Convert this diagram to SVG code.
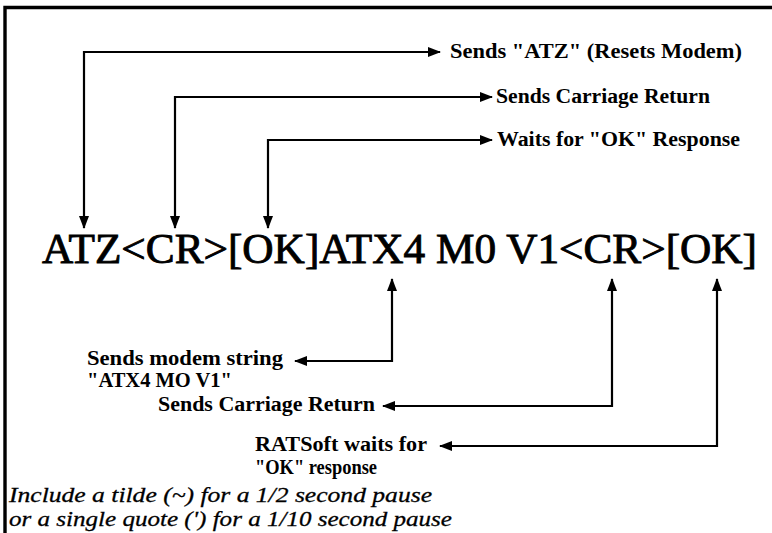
<svg xmlns="http://www.w3.org/2000/svg" width="772" height="533" viewBox="0 0 772 533">
<defs>
<style>
.lbl{font-family:"Liberation Serif","Times New Roman",serif;font-weight:bold;font-size:20px;fill:#000}
.main{font-family:"Liberation Serif","Times New Roman",serif;font-size:43px;fill:#000;stroke:#000;stroke-width:0.9}
.note{font-family:"Liberation Serif","Times New Roman",serif;font-style:italic;font-size:22px;fill:#000;stroke:#000;stroke-width:0.3}
.conn{fill:none;stroke:#000;stroke-width:2.2;marker-start:url(#ah);marker-end:url(#ah)}
</style>
<marker id="ah" viewBox="0 0 13 10" refX="12" refY="5" markerWidth="13" markerHeight="10" markerUnits="userSpaceOnUse" orient="auto-start-reverse">
<path d="M0,0 L13,5 L0,10 Z" fill="#000"/>
</marker>
</defs>
<rect width="772" height="533" fill="#fff"/>
<g id="frame">
<path d="M5,533 V7.5 H772" fill="none" stroke="#000" stroke-width="3.4"/>
</g>
<g id="connectors">
<path class="conn" d="M84,228 V52 H440"/>
<path class="conn" d="M175,228 V97 H492"/>
<path class="conn" d="M268,228 V140 H492"/>
<path class="conn" d="M392,279 V361 H295"/>
<path class="conn" d="M612,279 V406 H383"/>
<path class="conn" d="M717,279 V446 H440"/>
</g>
<g id="command">
<text class="main" x="42" y="263" textLength="715" lengthAdjust="spacingAndGlyphs">ATZ&lt;CR&gt;[OK]ATX4 M0 V1&lt;CR&gt;[OK]</text>
</g>
<g id="label-atz">
<text class="lbl" x="450" y="58" textLength="292" lengthAdjust="spacingAndGlyphs">Sends "ATZ" (Resets Modem)</text>
</g>
<g id="label-cr1">
<text class="lbl" x="496" y="103" textLength="214" lengthAdjust="spacingAndGlyphs">Sends Carriage Return</text>
</g>
<g id="label-ok1">
<text class="lbl" x="497" y="146" textLength="243" lengthAdjust="spacingAndGlyphs">Waits for "OK" Response</text>
</g>
<g id="label-modem">
<text class="lbl" x="87" y="365" textLength="196" lengthAdjust="spacingAndGlyphs">Sends modem string</text>
<text class="lbl" x="87" y="387" textLength="145" lengthAdjust="spacingAndGlyphs">"ATX4 MO V1"</text>
</g>
<g id="label-cr2">
<text class="lbl" x="158" y="411" textLength="217" lengthAdjust="spacingAndGlyphs">Sends Carriage Return</text>
</g>
<g id="label-ok2">
<text class="lbl" x="255" y="451" textLength="172" lengthAdjust="spacingAndGlyphs">RATSoft waits for</text>
<text class="lbl" x="255" y="474" textLength="122" lengthAdjust="spacingAndGlyphs">"OK" response</text>
</g>
<g id="note">
<text class="note" x="9" y="502" textLength="423" lengthAdjust="spacingAndGlyphs">Include a tilde (~) for a 1/2 second pause</text>
<text class="note" x="9" y="526" textLength="443" lengthAdjust="spacingAndGlyphs">or a single quote (') for a 1/10 second pause</text>
</g>
</svg>
